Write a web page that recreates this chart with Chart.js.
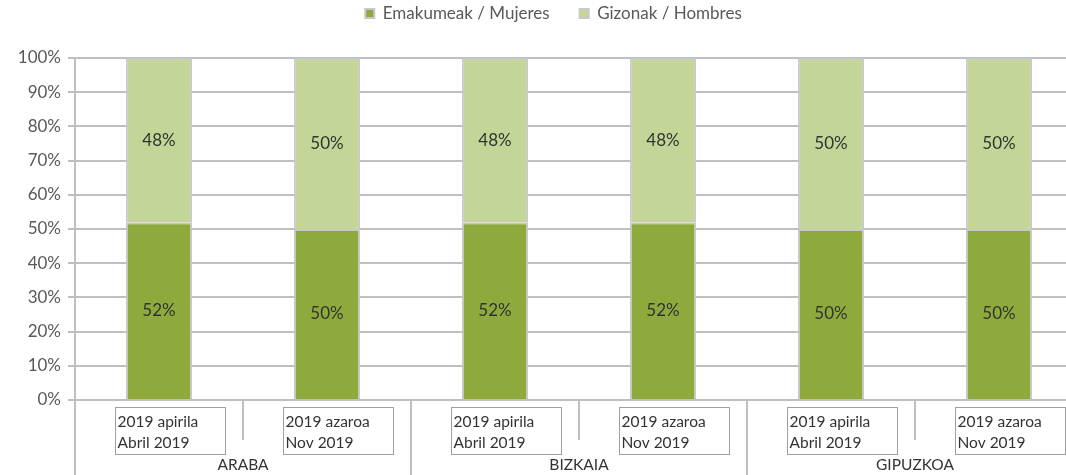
<!DOCTYPE html>
<html lang="eu">
<head>
  <meta charset="UTF-8">
  <title>Emakumeak / Mujeres - Gizonak / Hombres</title>
  <script src="https://cdn.jsdelivr.net/npm/chart.js"></script>
  <style>
    html, body { margin: 0; padding: 0; background: #fff; overflow: hidden; }
    .chart-wrap { width: 1090px; height: 475px; position: relative; }
  </style>
</head>
<body>
<div class="chart-wrap">
  <canvas id="myChart"></canvas>
</div>
<script>
  // datuak / datos
  const periods = [['2019 apirila', 'Abril 2019'], ['2019 azaroa', 'Nov 2019']];
  const regions = ['ARABA', 'BIZKAIA', 'GIPUZKOA'];
  const women = [52, 50, 52, 52, 50, 50];
  const men = [48, 50, 48, 48, 50, 50];
  const yTicks = [0, 10, 20, 30, 40, 50, 60, 70, 80, 90, 100];

  const labels = [];
  regions.forEach(r => periods.forEach(p => labels.push(p)));

  const FONT = 'Lato, "Open Sans", sans-serif';
  const gridColor = '#bfbfbf';
  const textColor = '#333333';

  // etiketak barren erdian
  const barLabels = {
    id: 'barLabels',
    afterDatasetsDraw(chart) {
      const ctx = chart.ctx;
      ctx.save();
      ctx.font = '17px ' + FONT;
      ctx.fillStyle = textColor;
      ctx.textAlign = 'center';
      ctx.textBaseline = 'middle';
      chart.data.datasets.forEach((ds, di) => {
        chart.getDatasetMeta(di).data.forEach((bar, i) => {
          ctx.fillText(ds.data[i] + '%', bar.x, (bar.y + bar.base) / 2);
        });
      });
      ctx.restore();
    }
  };

  // X ardatza: bi mailatako etiketak
  const groupAxis = {
    id: 'groupAxis',
    afterDraw(chart) {
      const ctx = chart.ctx;
      const xs = chart.scales.x;
      const area = chart.chartArea;
      const bottom = chart.height;
      const px = labels.map((_, i) => xs.getPixelForValue(i));
      const step = px[1] - px[0];
      ctx.save();
      ctx.strokeStyle = gridColor;
      ctx.lineWidth = 2;
      ctx.beginPath();
      ctx.moveTo(area.left, area.bottom);
      ctx.lineTo(area.left, bottom);
      for (let i = 0; i < labels.length; i++) {
        const bx = px[i] + step / 2;
        ctx.moveTo(bx, area.bottom);
        ctx.lineTo(bx, i % 2 === 1 ? bottom : area.bottom + 40);
      }
      ctx.stroke();

      ctx.font = '15.5px ' + FONT;
      ctx.fillStyle = textColor;
      ctx.textBaseline = 'middle';
      ctx.strokeStyle = '#a0a0a0';
      ctx.lineWidth = 1;
      labels.forEach((lines, i) => {
        const left = Math.round(px[i] - 44) + 0.5;
        ctx.strokeRect(left, area.bottom + 7.5, 110, 47);
        ctx.textAlign = 'left';
        lines.forEach((t, k) => ctx.fillText(t, left + 2, area.bottom + 22 + k * 21));
      });
      ctx.textAlign = 'center';
      regions.forEach((r, g) => {
        ctx.fillText(r, (px[2 * g] + px[2 * g + 1]) / 2, area.bottom + 65);
      });
      ctx.restore();
    }
  };

  // legendaren altuera finkoa eta pixka bat eskuinera
  const legendHeight = {
    id: 'legendHeight',
    beforeInit(chart) {
      const fit = chart.legend.fit;
      chart.legend.fit = function () {
        fit.bind(chart.legend)();
        this.height = 83;
      };
    },
    afterLayout(chart) {
      chart.legend.left += 12;
      chart.legend.right += 12;
    }
  };

  const ctx = document.getElementById('myChart').getContext('2d');
  const myChart = new Chart(ctx, {
    type: 'bar',
    data: {
      labels: labels,
      datasets: [
        {
          label: 'Emakumeak / Mujeres',
          data: women,
          backgroundColor: '#8eaa3c',
          borderColor: '#c8c8c8',
          borderWidth: 2,
          barPercentage: 0.395,
          categoryPercentage: 1
        },
        {
          label: 'Gizonak / Hombres',
          data: men,
          backgroundColor: '#c3d597',
          borderColor: '#c8c8c8',
          borderWidth: 2,
          barPercentage: 0.395,
          categoryPercentage: 1
        }
      ]
    },
    options: {
      responsive: true,
      maintainAspectRatio: false,
      animation: false,
      layout: { padding: { left: 0, right: 7, top: -25, bottom: 75 } },
      plugins: {
        tooltip: { enabled: false },
        legend: {
          position: 'top',
          labels: {
            boxWidth: 9,
            boxHeight: 9,
            padding: 30,
            color: '#595959',
            font: { family: FONT, size: 17 }
          }
        }
      },
      scales: {
        x: {
          stacked: true,
          display: false
        },
        y: {
          stacked: true,
          min: 0,
          max: 100,
          afterBuildTicks: s => { s.ticks = yTicks.map(v => ({ value: v })); },
          afterFit: s => { s.width = 75; },
          grid: { color: gridColor, lineWidth: 2, tickLength: 7 },
          border: { color: gridColor, width: 2 },
          ticks: {
            padding: 7,
            color: '#595959',
            font: { family: FONT, size: 17 },
            callback: v => v + '%'
          }
        }
      }
    },
    plugins: [barLabels, groupAxis, legendHeight]
  });
</script>
</body>
</html>
